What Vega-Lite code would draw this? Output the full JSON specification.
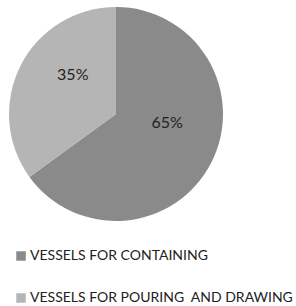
{
  "$schema": "https://vega.github.io/schema/vega-lite/v6.json",
  "autosize": {"type": "none"},
  "width": 296,
  "height": 306,
  "padding": 0,
  "background": "white",
  "config": {"view": {"stroke": null}, "font": "Lato"},
  "data": {"values": [
    {"category": "VESSELS FOR CONTAINING", "value": 65, "label": "65%", "order": 1},
    {"category": "VESSELS FOR POURING\u00a0 AND DRAWING", "value": 35, "label": "35%", "order": 2}
  ]},
  "encoding": {
    "theta": {"field": "value", "type": "quantitative", "stack": true},
    "order": {"field": "order", "type": "quantitative"}
  },
  "layer": [
    {
      "mark": {"type": "arc", "x": 116, "y": 114, "outerRadius": 107},
      "encoding": {
        "color": {
          "field": "category", "type": "nominal",
          "scale": {"domain": ["VESSELS FOR CONTAINING", "VESSELS FOR POURING\u00a0 AND DRAWING"], "range": ["#8a8a8a", "#b5b5b5"]},
          "legend": {
            "title": null, "orient": "none", "legendX": 14, "legendY": 249,
            "direction": "vertical", "symbolType": "square", "symbolSize": 90,
            "symbolStrokeWidth": 0, "labelFontSize": 14, "labelColor": "#222222",
            "labelFont": "Lato", "rowPadding": 28, "labelOffset": 2, "labelLimit": 300
          }
        }
      }
    },
    {
      "mark": {"type": "text", "x": 116, "y": 114, "radius": 53, "dx": 4, "dy": -15, "fontSize": 16, "color": "#222222", "font": "Lato"},
      "encoding": {"text": {"field": "label"}}
    }
  ]
}
